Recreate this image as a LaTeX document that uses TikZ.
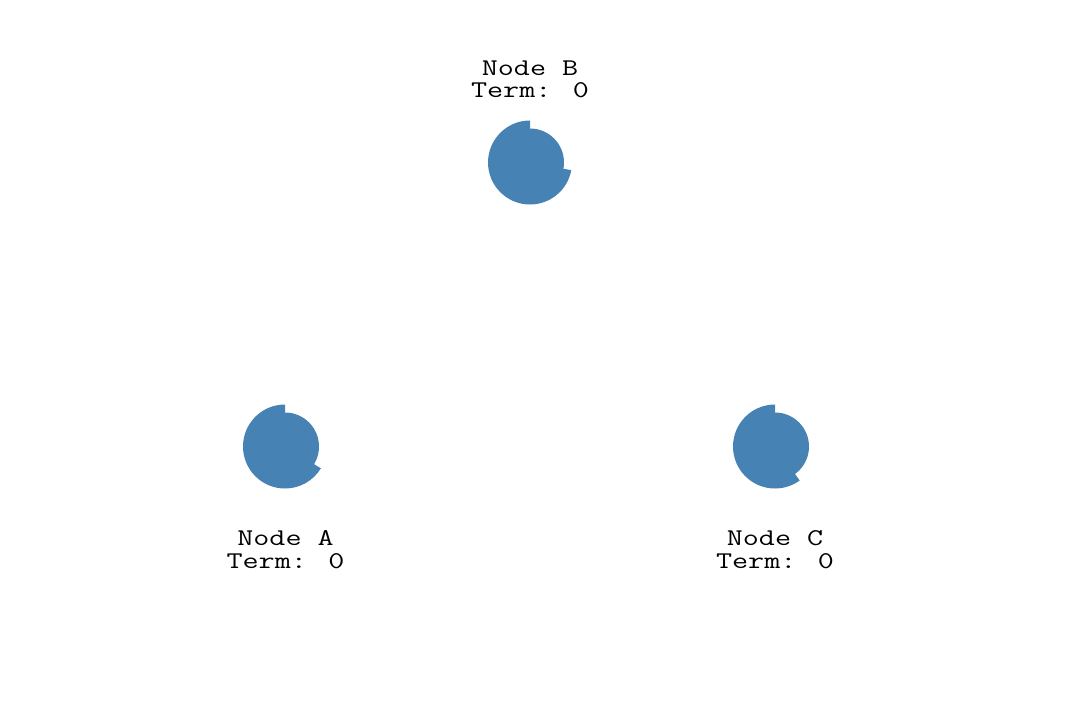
\documentclass[tikz,border=0pt]{standalone}
\usepackage{fontspec}
\newfontfamily\monofont[FakeStretch=1.3]{Latin Modern Mono}
\definecolor{steel}{HTML}{4682B4}
\begin{document}
\begin{tikzpicture}[x=1pt,y=-1pt,
  core/.style={circle,fill=steel,draw=none,minimum size=68pt,inner sep=0pt},
  lbl/.style={font=\monofont\fontsize{24}{24}\selectfont,anchor=base,inner sep=0pt}]
\useasboundingbox (0,0) rectangle (1084,710);
% Node A
\node[core] (A) at (285,446.5) {};
\fill[steel] (A.center) -- ++(0,-42) arc[start angle=-90,end angle=-90-238.7,radius=42] -- cycle;
\node[lbl] (Aname) at (285.5,545.7) {Node A};
\node[lbl] (Aterm) at (285.5,568.3) {Term: 0};
% Node B
\node[core] (B) at (530,162.5) {};
\fill[steel] (B.center) -- ++(0,-42) arc[start angle=-90,end angle=-90-259.5,radius=42] -- cycle;
\node[lbl] (Bname) at (530,75.5) {Node B};
\node[lbl] (Bterm) at (530,97.8) {Term: 0};
% Node C
\node[core] (C) at (775,446.5) {};
\fill[steel] (C.center) -- ++(0,-42) arc[start angle=-90,end angle=-90-216,radius=42] -- cycle;
\node[lbl] (Cname) at (775,545.7) {Node C};
\node[lbl] (Cterm) at (775,568.3) {Term: 0};
\end{tikzpicture}
\end{document}
